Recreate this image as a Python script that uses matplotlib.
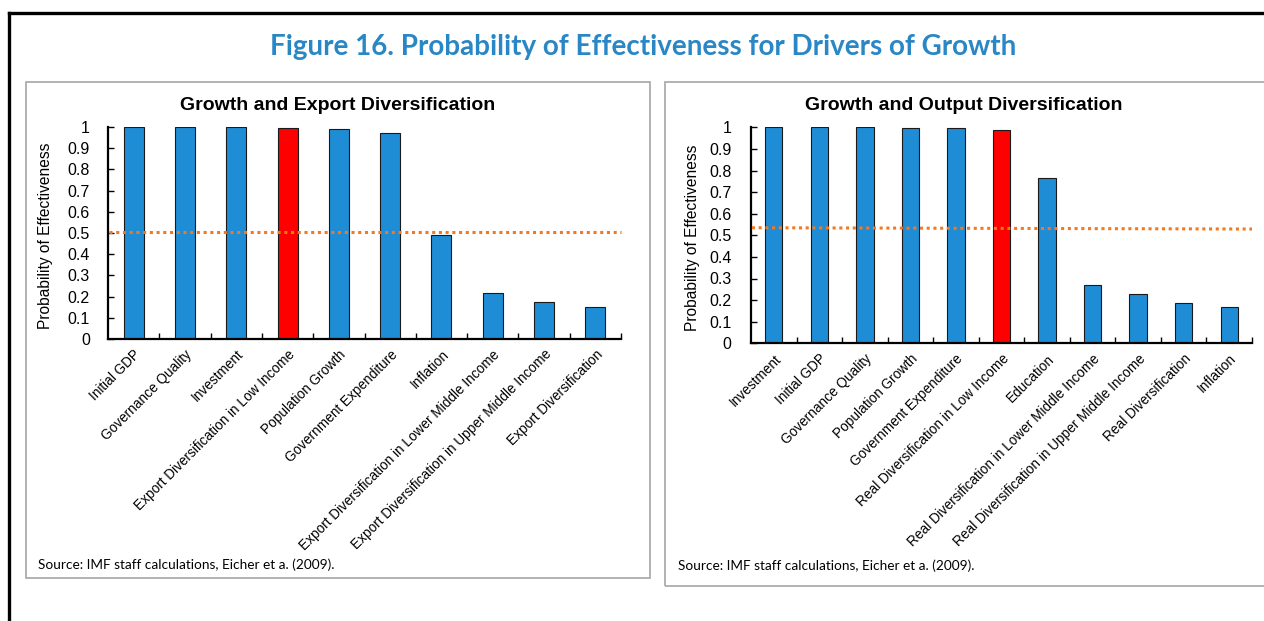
import matplotlib
matplotlib.use("Agg")
import matplotlib.pyplot as plt
from matplotlib.patches import Rectangle
from matplotlib.lines import Line2D

# left panel: export diversification
export_labels = ["Initial GDP", "Governance Quality", "Investment",
                 "Export Diversification in Low Income", "Population Growth",
                 "Government Expenditure", "Inflation",
                 "Export Diversification in Lower Middle Income",
                 "Export Diversification in Upper Middle Income",
                 "Export Diversification"]
export_values = [1.0, 1.0, 1.0, 0.995, 0.99, 0.972, 0.492, 0.217, 0.176, 0.153]
export_highlight = 3
export_threshold = [0.506, 0.506]

# right panel: output diversification
output_labels = ["Investment", "Initial GDP", "Governance Quality",
                 "Population Growth", "Government Expenditure",
                 "Real Diversification in Low Income", "Education",
                 "Real Diversification in Lower Middle Income",
                 "Real Diversification in Upper Middle Income",
                 "Real Diversification", "Inflation"]
output_values = [1.0, 1.0, 1.0, 0.995, 0.995, 0.989, 0.767, 0.268, 0.227, 0.187, 0.168]
output_highlight = 5
output_threshold = [0.535, 0.529]

yticks = [0, 0.1, 0.2, 0.3, 0.4, 0.5, 0.6, 0.7, 0.8, 0.9, 1]
ytick_labels = ["0", "0.1", "0.2", "0.3", "0.4", "0.5", "0.6", "0.7", "0.8", "0.9", "1"]

W, H = 1264, 621
BLUE = "#1F8DD6"
RED = "#FF0000"
ORANGE = "#F5781E"
ARIAL = "Liberation Sans"
CALIBRI = "Lato"

fig = plt.figure(figsize=(W / 100, H / 100), dpi=100)


def px(x, y):
    """pixel coords (top-left origin) -> figure fraction"""
    return x / W, 1 - y / H


def draw_panel(rect, labels, values, highlight, threshold, title, title_x,
               ylabel_x, source_xy, bar_w, ypad):
    x0, y0, x1, y1 = rect
    ax = fig.add_axes([x0 / W, 1 - y1 / H, (x1 - x0) / W, (y1 - y0) / H])
    n = len(values)
    colors = [RED if i == highlight else BLUE for i in range(n)]
    ax.bar(range(n), values, width=bar_w, color=colors, edgecolor="#1a1a1a",
           linewidth=0.8, zorder=2)
    ax.plot([-0.48, n - 0.5], threshold, linestyle=(0, (1, 1.2)), color=ORANGE,
            linewidth=2.2, zorder=3, clip_on=False)
    ax.set_xlim(-0.5, n - 0.5)
    ax.set_ylim(0, 1)
    for s in ["top", "right"]:
        ax.spines[s].set_visible(False)
    for s in ["left", "bottom"]:
        ax.spines[s].set_linewidth(1.6)
    ax.set_yticks(yticks)
    ax.set_yticklabels(ytick_labels, fontsize=11.5, family=ARIAL)
    ax.tick_params(axis="y", direction="in", length=4, width=1, pad=ypad)
    ax.set_xticks(range(n))
    ax.set_xticklabels(labels, rotation=45, ha="right", rotation_mode="anchor",
                       fontsize=9.8, family=ARIAL)
    ax.tick_params(axis="x", length=0, pad=6)
    ax.set_xticks([i + 0.5 for i in range(n)], minor=True)
    ax.tick_params(axis="x", which="minor", direction="in", length=4, width=1)
    fig.text(*px(ylabel_x, (y0 + y1) / 2 + 3), "Probability of Effectiveness", rotation=90,
             ha="center", va="center", fontsize=11.2, family=ARIAL)
    fig.text(*px(title_x, 105), title, ha="center", va="center", fontsize=14,
             fontweight="bold", family=ARIAL)
    fig.text(*px(*source_xy), "Source: IMF staff calculations, Eicher et a. (2009).",
             ha="left", va="center", fontsize=9.8, family=CALIBRI)
    return ax


# panel frames
fig.add_artist(Rectangle(px(26, 578), 624 / W, 496 / H, transform=fig.transFigure,
                         fill=False, edgecolor="#A6A6A6", linewidth=1.2))
fig.add_artist(Rectangle(px(665, 586), 640 / W, 504 / H, transform=fig.transFigure,
                         fill=False, edgecolor="#A6A6A6", linewidth=1.2))

# outer black border (left and top only visible)
fig.add_artist(Line2D([9 / W, 9 / W], [0, 1 - 13 / H], transform=fig.transFigure,
                      color="black", linewidth=2.4))
fig.add_artist(Line2D([9 / W, 1.0], [1 - 13 / H, 1 - 13 / H], transform=fig.transFigure,
                      color="black", linewidth=2.4))

fig.text(*px(643, 47), "Figure 16. Probability of Effectiveness for Drivers of Growth",
         ha="center", va="center", fontsize=20, fontweight="bold", color="#2A87C6",
         family=CALIBRI)

draw_panel((108, 127, 621, 339), export_labels, export_values, export_highlight,
           export_threshold, "Growth and Export Diversification", 338, 46, (38, 565),
           0.39, 13)
draw_panel((751, 127.3, 1252, 343.3), output_labels, output_values, output_highlight,
           output_threshold, "Growth and Output Diversification", 964, 692, (678, 566),
           0.38, 14)

fig.savefig("out.png", dpi=100)
